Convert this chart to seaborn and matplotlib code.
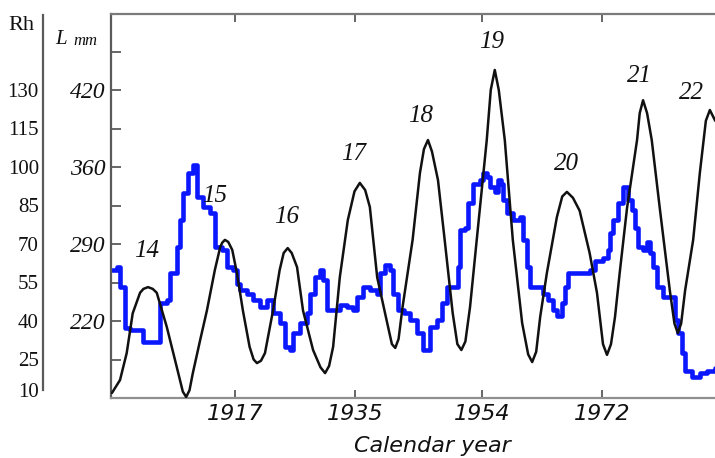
import matplotlib
matplotlib.use("Agg")
import matplotlib.pyplot as plt
import seaborn as sns
import pandas as pd

# ---------------- data ----------------
# Smoothed sunspot number Rh (black curve)
rh_years = [1898.6, 1899.8, 1900.8, 1901.7, 1902.8, 1903.3, 1904.0, 1904.7, 1905.3, 1906.8,
            1908.3, 1909.2, 1909.7, 1910.2, 1910.7, 1911.8, 1912.8, 1914.0, 1914.8, 1915.1,
            1915.5, 1916.0, 1916.6, 1917.3, 1918.2, 1919.2, 1919.8, 1920.3, 1920.9, 1921.5,
            1922.7, 1923.7, 1924.3, 1924.9, 1925.5, 1926.3, 1927.2, 1928.7, 1929.8, 1930.5,
            1931.1, 1931.7, 1932.7, 1933.9, 1934.9, 1935.7, 1936.5, 1937.2, 1938.3, 1939.8,
            1940.5, 1941.0, 1941.5, 1942.1, 1943.6, 1944.7, 1945.3, 1945.9, 1946.5, 1947.4,
            1948.4, 1949.6, 1950.3, 1950.9, 1951.5, 1952.2, 1953.2, 1954.7, 1955.3, 1955.9,
            1956.5, 1957.4, 1958.6, 1960.0, 1960.9, 1961.5, 1962.1, 1962.7, 1963.7, 1965.2,
            1966.0, 1966.7, 1967.6, 1968.6, 1970.1, 1971.2, 1972.1, 1972.7, 1973.3, 1973.9,
            1974.6, 1975.7, 1977.2, 1977.6, 1978.1, 1978.7, 1979.4, 1980.6, 1982.1, 1982.8,
            1983.3, 1983.8, 1984.4, 1985.6, 1986.6, 1987.5, 1988.1, 1988.9]
rh_values = [12, 17, 27.5, 43, 51, 52.5, 53.2, 52.5, 51, 37.7,
             22, 12.5, 10.4, 13, 19.7, 32.6, 44, 59.9, 68.8, 70.5,
             71.6, 70.8, 67.7, 58.7, 44, 29.9, 25, 23.6, 24.5, 27.5,
             44, 59.9, 66.5, 68.4, 66.5, 61, 44, 28.7, 22, 19.7,
             22.5, 29.9, 57, 79.3, 90.5, 93.8, 91, 84.4, 57, 39.2,
             31, 29.5, 33, 45.5, 71.6, 97.7, 107, 110.5, 106, 94.9,
             71.6, 43.1, 31, 28.7, 32, 45.5, 71.6, 110.5, 130, 137.8,
             130, 110.5, 71.6, 39.2, 27, 24.0, 28, 41.6, 58.7, 80.5,
             88.5, 90.3, 88, 83, 66.5, 51, 31, 26.8, 31, 41.6,
             58.7, 84, 110.5, 121, 126, 121, 110.5, 84, 52, 39,
             35.3, 39, 52, 71.6, 97.7, 118, 122.2, 118]

# Length L, mm (blue step curve)
l_years = [1898.59, 1899.34, 1899.78, 1900.53, 1901.28, 1903.23, 1905.77, 1906.82, 1907.27, 1908.32,
           1908.77, 1909.22, 1909.96, 1910.71, 1911.31, 1912.21, 1913.26, 1914.01, 1915.05, 1915.80,
           1916.70, 1917.30, 1917.75, 1918.80, 1919.69, 1920.74, 1921.79, 1922.69, 1923.74, 1924.49,
           1925.23, 1925.68, 1926.73, 1927.78, 1928.23, 1928.98, 1929.72, 1930.17, 1930.77, 1932.72,
           1933.77, 1934.66, 1935.26, 1936.16, 1937.21, 1938.26, 1938.71, 1939.46, 1940.20, 1940.65,
           1941.40, 1942.30, 1943.20, 1944.25, 1945.14, 1946.19, 1947.24, 1947.99, 1948.74, 1950.38,
           1950.68, 1951.43, 1951.88, 1952.63, 1953.68, 1954.13, 1954.72, 1955.17, 1955.92, 1956.37,
           1956.82, 1957.12, 1957.72, 1958.62, 1959.66, 1960.11, 1960.71, 1961.16, 1963.11, 1963.86,
           1964.60, 1965.20, 1965.95, 1966.40, 1966.86, 1970.14, 1970.89, 1972.09, 1972.84, 1973.14,
           1973.59, 1974.34, 1975.08, 1975.83, 1976.43, 1976.88, 1977.33, 1978.08, 1978.68, 1979.13,
           1979.57, 1980.17, 1981.07, 1982.87, 1983.32, 1983.92, 1984.37, 1985.42, 1986.62, 1987.66,
           1988.86]
l_values = [266, 269, 251, 214, 212, 201, 236, 239, 264, 287,
            312, 336, 355, 362, 333, 324, 318, 287, 285, 269,
            266, 254, 248, 245, 239, 233, 239, 227, 218, 196,
            194, 209, 218, 227, 245, 260, 266, 257, 230, 234.5,
            233, 230, 242, 251, 248, 245, 264, 271, 266, 245,
            230, 227, 221, 209, 194, 214.5, 221, 236, 251, 269,
            303, 305, 327, 345, 348, 355, 351, 342, 337, 348,
            345, 330, 318, 312, 314.5, 294, 269, 251, 245, 239,
            230, 225, 236, 251, 264, 266, 275, 277, 284.5, 300,
            312, 327, 342, 330, 321, 305, 287, 284.5, 292, 282,
            269, 251, 242, 221, 209, 191, 175, 169, 173, 175,
            177]

cycle_labels = ["14", "15", "16", "17", "18", "19", "20", "21", "22"]
cycle_years = [1903.8, 1914.0, 1924.8, 1934.8, 1944.8, 1955.4, 1966.7, 1977.5, 1985.4]
cycle_rh = [67.3, 88.7, 80.5, 105.1, 119.9, 148.5, 101.2, 135.5, 128.8]

x_ticks = [1917, 1935, 1954, 1972]
x_tick_labels = ["1917", "1935", "1954", "1972"]
l_ticks = [185, 220, 255, 290, 325, 360, 395, 430, 465]
l_tick_labels = ["", "220", "", "290", "", "360", "", "420", ""]
rh_ticks = [13.1, 25, 40, 55, 70, 85, 100, 115, 130, 145, 159.2]
rh_tick_labels = ["10", "25", "40", "55", "70", "85", "100", "115", "130", "", ""]

df_rh = pd.DataFrame({"year": rh_years, "Rh": rh_values})
df_l = pd.DataFrame({"year": l_years, "L": l_values})

# ---------------- styling ----------------
sns.set_theme(style="white")
plt.rcParams["font.family"] = ["DejaVu Sans"]

W, H = 715, 458
fig = plt.figure(figsize=(W / 100, H / 100), dpi=100)
fig.patch.set_facecolor("white")


def rect(x0, y0, x1, y1):
    return [x0 / W, 1 - y1 / H, (x1 - x0) / W, (y1 - y0) / H]


SPINE = "#5a5a5a"
SERIF = "Liberation Serif"

# main axes (L mm units)
ax = fig.add_axes(rect(111, 14, 717, 398))
ax.set_facecolor("white")
sns.lineplot(data=df_l, x="year", y="L", ax=ax, color="#0b17ff", lw=3.3,
             drawstyle="steps-post", estimator=None, sort=False)
ax.set_xlim(1898.45, 1898.45 + 606 / 6.68)
ax.set_ylim(150, 499.1)
ax.set_xlabel("")
ax.set_ylabel("")
for s in ax.spines.values():
    s.set_visible(True)
    s.set_color(SPINE)
    s.set_linewidth(1.6)
ax.spines["bottom"].set_color("#8f8f8f")
ax.spines["top"].set_color("#7a7a7a")

ax.set_yticks(l_ticks, labels=l_tick_labels, fontsize=17, fontstyle="italic",
              fontfamily=SERIF)
ax.set_xticks(x_ticks, labels=x_tick_labels, fontsize=16, fontstyle="italic")
ax.tick_params(axis="y", which="both", direction="in", length=7, width=1.3,
               color=SPINE, left=True, right=True, labelleft=True, labelright=False,
               pad=4, labelcolor="#111111")
ax.tick_params(axis="x", which="both", direction="in", length=6, width=1.3,
               color=SPINE, bottom=True, top=True, labelbottom=True, labeltop=False,
               pad=4, labelcolor="#111111")

# twin axes (Rh units) for the black curve and cycle numbers
ax2 = ax.twinx()
sns.lineplot(data=df_rh, x="year", y="Rh", ax=ax2, color="#111111", lw=1.8,
             estimator=None, sort=False, solid_joinstyle="round")
ax2.set_ylim(10, 159.6)
ax2.set_ylabel("")
ax2.set_yticks([])
for s in ax2.spines.values():
    s.set_visible(False)
for lab, yr, rv in zip(cycle_labels, cycle_years, cycle_rh):
    ax2.text(yr, rv, lab, ha="center", va="center", fontsize=18,
             fontstyle="italic", fontfamily=SERIF, color="#111111")

# separate Rh axis on the far left
axr = fig.add_axes(rect(43, 15, 60, 390))
axr.patch.set_visible(False)
axr.set_ylim(13.1, 159.2)
axr.set_xlim(0, 1)
axr.set_xticks([])
for k, s in axr.spines.items():
    s.set_visible(k == "left")
axr.spines["left"].set_color(SPINE)
axr.spines["left"].set_linewidth(1.6)
axr.set_yticks(rh_ticks, labels=rh_tick_labels, fontsize=15, fontfamily=SERIF)
axr.tick_params(axis="y", direction="in", length=8, width=1.3, color=SPINE,
                pad=3, labelcolor="#111111")

# axis titles
fig.text(8 / W, 1 - 26 / H, "Rh", ha="left", va="center", fontsize=16,
         fontfamily=SERIF, color="#111111")
fig.text(55 / W, 1 - 40 / H, "L", ha="left", va="center", fontsize=15,
         fontstyle="italic", fontfamily=SERIF, color="#111111")
fig.text(73 / W, 1 - 41 / H, "mm", ha="left", va="center", fontsize=12,
         fontstyle="italic", fontfamily=SERIF, color="#111111")
fig.text(432 / W, 1 - 446 / H, "Calendar year", ha="center", va="center",
         fontsize=16, fontstyle="italic", color="#111111")

fig.savefig("out.png", dpi=100)
